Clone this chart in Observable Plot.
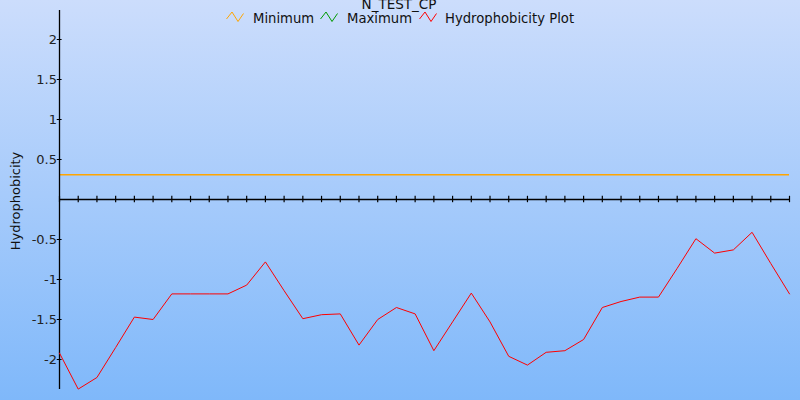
<!DOCTYPE html>
<html>
<head>
<meta charset="utf-8">
<script src="https://cdn.jsdelivr.net/npm/d3@7"></script>
<script src="https://cdn.jsdelivr.net/npm/@observablehq/plot@0.6"></script>
<style>
  html, body { margin: 0; padding: 0; }
  #wrap {
    position: relative; width: 800px; height: 400px; overflow: hidden;
    background: linear-gradient(to bottom, rgb(204,221,252), rgb(127,184,250));
    font-family: "DejaVu Sans", sans-serif; color: #111;
  }
  #wrap svg { position: absolute; left: 0; top: 0; background: transparent; }
  .t { position: absolute; white-space: nowrap; font-size: 13.2px; line-height: 1; }
  .icon { position: absolute; }
</style>
</head>
<body>
<div id="wrap"></div>
<script>
// ---- data ----
const title = "N_TEST_CP";
const yLabel = "Hydrophobicity";
const seriesNames = ["Minimum", "Maximum", "Hydrophobicity Plot"];
const seriesColors = ["#ffa500", "#009900", "#ff0000"];
const minimumValue = [0.31];
const hydro = [-1.92, -2.37, -2.225, -1.85, -1.47, -1.50, -1.18, -1.18, -1.18, -1.18,
               -1.07, -0.78, -1.14, -1.49, -1.44, -1.43, -1.82, -1.50, -1.35, -1.43,
               -1.89, -1.53, -1.17, -1.53, -1.96, -2.07, -1.91, -1.89, -1.75, -1.35,
               -1.275, -1.22, -1.22, -0.86, -0.49, -0.67, -0.63, -0.41, -0.80, -1.18];
const yTicks = [-2, -1.5, -1, -0.5, 0.5, 1, 1.5, 2];
const yDomain = [-2.375, 2.3625];

const xIdx = hydro.map((d, i) => i);

const chart = Plot.plot({
  width: 800, height: 400,
  marginLeft: 59, marginRight: 11, marginTop: 10, marginBottom: 11,
  style: { background: "transparent", fontFamily: "DejaVu Sans, sans-serif", fontSize: "13px", color: "#222" },
  x: { domain: [0, xIdx.length - 1], axis: null },
  y: { domain: yDomain, axis: null },
  marks: [
    Plot.ruleY(minimumValue, { stroke: seriesColors[0], strokeWidth: 1.5 }),
    Plot.ruleX([0], { stroke: "#000", strokeWidth: 1.3 }),
    Plot.ruleY([0], { stroke: "#000", strokeWidth: 1.3 }),
    Plot.ruleX(xIdx, { x: d => d, y1: -0.04, y2: 0.04, stroke: "#000", strokeWidth: 1.2 }),
    Plot.ruleY(yTicks, { y: d => d, x1: -0.12, x2: 0.14, stroke: "#000", strokeWidth: 1 }),
    Plot.text(yTicks, { y: d => d, x: 0, dx: -2.5, textAnchor: "end", text: d => String(d), fill: "#222", fontSize: 13 }),
    Plot.line(hydro, { x: (d, i) => i, y: d => d, stroke: seriesColors[2], strokeWidth: 1 })
  ]
});
const wrap = document.getElementById("wrap");
wrap.appendChild(chart);

// title
const t = document.createElement("div");
t.className = "t"; t.textContent = title;
t.style.left = "399px"; t.style.top = "-2px"; t.style.transform = "translateX(-50%)"; t.style.fontSize = "13.5px";
wrap.appendChild(t);

// y label
const yl = document.createElement("div");
yl.className = "t"; yl.textContent = yLabel;
yl.style.left = "15px"; yl.style.top = "201px"; yl.style.fontSize = "13px";
yl.style.transform = "translate(-50%,-50%) rotate(-90deg)";
wrap.appendChild(yl);

// legend
const iconX = [226, 320, 419];
const textX = [253, 347, 445];
seriesNames.forEach((name, i) => {
  const ns = "http://www.w3.org/2000/svg";
  const s = document.createElementNS(ns, "svg");
  s.setAttribute("width", 18); s.setAttribute("height", 12);
  s.setAttribute("class", "icon");
  s.style.left = iconX[i] + "px"; s.style.top = "11px";
  const p = document.createElementNS(ns, "polyline");
  p.setAttribute("points", "0.5,8 6,1 12,10.5 17.5,2.5");
  p.setAttribute("fill", "none"); p.setAttribute("stroke", seriesColors[i]); p.setAttribute("stroke-width", "1");
  s.appendChild(p);
  wrap.appendChild(s);
  const lt = document.createElement("div");
  lt.className = "t"; lt.textContent = name;
  lt.style.left = textX[i] + "px"; lt.style.top = "12px";
  wrap.appendChild(lt);
});
</script>
</body>
</html>
